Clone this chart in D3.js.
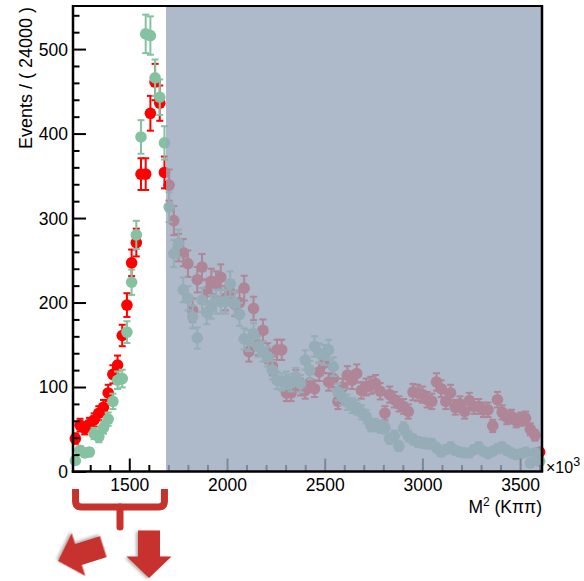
<!DOCTYPE html>
<html>
<head>
<meta charset="utf-8">
<script src="https://cdn.jsdelivr.net/npm/d3@7"></script>
<style>
  body { margin: 0; background: #fff; }
  svg { display: block; }
  text { font-family: "Liberation Sans", Arial, Helvetica, sans-serif; fill: #000; }
</style>
</head>
<body>
<svg id="chart" width="584" height="581"></svg>
<script>
// Binning of the M^2(K pi pi) histogram, in units of 10^3
const binLow = 1212;
const binWidth = 24;

// Events per bin, first sample (red)
const redCounts = [
  39, 55, 51, 56, 61, 69, 76, 93, 115, 126,
  161, 197, 247, 271, 352, 352, 424, 461, 436, 354,
  339, 297, 265, 259, 246, 191, 227, 242, 213, 225,
  222, 230, 205, 212, 198, 200, 217, 142, 193, 150,
  167, 140, 125, 144, 144, 93, 93, 110, 100, 96,
  105, 98, 118, 128, 106, 110, 83, 100, 114, 108,
  116, 96, 100, 102, 104, 95, 69, 91, 85, 80,
  77, 71, 94, 93, 91, 85, 83, 106, 98, 83,
  93, 76, 80, 71, 84, 77, 77, 73, 73, 54,
  85, 70, 64, 65, 60, 62, 63, 50, 43, 23
];

// Events per bin, second sample (green)
const greenCounts = [
  13, 25, 22, 23, 45, 41, 52, 62, 83, 108,
  110, 165, 224, 280, 396, 518, 516, 466, 443, 389,
  313, 258, 270, 215, 205, 183, 158, 203, 188, 195,
  201, 201, 201, 222, 199, 186, 157, 155, 163, 148,
  142, 136, 120, 108, 106, 108, 105, 112, 104, 132,
  120, 148, 140, 138, 144, 124, 94, 88, 82, 78,
  76, 70, 65, 55, 55, 53, 52, 39, 42, 30,
  51, 42, 38, 35, 34, 33, 33, 28, 23, 26,
  29, 25, 23, 22, 22, 26, 29, 24, 21, 24,
  27, 29, 25, 22, 20, 21, 23, 10, 22, 12
];

const xMajorTicks = [1500, 2000, 2500, 3000, 3500];
const yMajorTicks = [0, 100, 200, 300, 400, 500];
const xDomain = [1212, 3612];
const yDomain = [0, 551];
const shadeStart = 1688;   // start of the shaded (excluded) mass range

const svg = d3.select("#chart");
const plot = { left: 73, right: 542, top: 6, bottom: 471.5 };

const x = d3.scaleLinear().domain(xDomain).range([plot.left, plot.right]);
const y = d3.scaleLinear().domain(yDomain).range([plot.bottom, plot.top]);

const RED = "#ff0000";
const GREEN = "#85c2a1";
const ACCENT = "#c8322d";

function toPoints(counts) {
  return counts.map((n, i) => ({
    m: binLow + binWidth * (i + 0.5),
    n: n,
    err: Math.sqrt(n)
  }));
}

function drawSeries(counts, color) {
  const pts = toPoints(counts);
  const g = svg.append("g");
  const bars = g.selectAll("g.eb").data(pts).join("g").attr("class", "eb")
    .attr("stroke", color).attr("stroke-width", 2).attr("fill", "none");
  bars.append("line")
    .attr("x1", d => x(d.m)).attr("x2", d => x(d.m))
    .attr("y1", d => y(d.n + d.err)).attr("y2", d => y(d.n - d.err));
  bars.append("line")
    .attr("x1", d => x(d.m) - 3.5).attr("x2", d => x(d.m) + 3.5)
    .attr("y1", d => y(d.n + d.err)).attr("y2", d => y(d.n + d.err));
  bars.append("line")
    .attr("x1", d => x(d.m) - 3.5).attr("x2", d => x(d.m) + 3.5)
    .attr("y1", d => y(d.n - d.err)).attr("y2", d => y(d.n - d.err));
  g.selectAll("circle").data(pts).join("circle")
    .attr("cx", d => x(d.m)).attr("cy", d => y(d.n))
    .attr("r", 5.8).attr("fill", color);
}

drawSeries(redCounts, RED);
drawSeries(greenCounts, GREEN);

// Axes: ticks point into the frame
const fontSize = 17.5;
const yMinor = d3.range(0, yDomain[1], 20).filter(v => v % 100 !== 0);
const xMinor = d3.range(1300, xDomain[1], 100).filter(v => v % 500 !== 0);

const yAxis = svg.append("g").attr("transform", `translate(${plot.left},0)`)
  .call(d3.axisLeft(y).tickValues(yMajorTicks).tickSizeInner(-13).tickSizeOuter(0)
    .tickPadding(5).tickFormat(d3.format("d")));
svg.append("g").attr("transform", `translate(${plot.left},0)`)
  .call(d3.axisLeft(y).tickValues(yMinor).tickSizeInner(-6.5).tickSizeOuter(0).tickFormat(""))
  .call(g => g.select(".domain").remove());

const xAxis = svg.append("g").attr("transform", `translate(0,${plot.bottom})`)
  .call(d3.axisBottom(x).tickValues(xMajorTicks).tickSizeInner(-13).tickSizeOuter(0)
    .tickPadding(7.5).tickFormat(d3.format("d")));
svg.append("g").attr("transform", `translate(0,${plot.bottom})`)
  .call(d3.axisBottom(x).tickValues(xMinor).tickSizeInner(-6.5).tickSizeOuter(0).tickFormat(""))
  .call(g => g.select(".domain").remove());

svg.selectAll(".domain").remove();
svg.selectAll(".tick line").attr("stroke", "#000").attr("stroke-width", 2);
svg.selectAll(".tick text").attr("font-size", fontSize)
  .attr("font-family", '"Liberation Sans", Arial, sans-serif').attr("fill", "#000");
yAxis.selectAll(".tick text").attr("dy", "0.34em");

// Shaded region over the excluded high-mass range
svg.append("rect")
  .attr("x", x(shadeStart)).attr("y", plot.top)
  .attr("width", plot.right - x(shadeStart)).attr("height", plot.bottom - plot.top)
  .attr("fill", "#9aa8bd").attr("fill-opacity", 0.8);

// Frame
svg.append("line").attr("x1", plot.left).attr("x2", plot.left)
  .attr("y1", plot.top - 1).attr("y2", plot.bottom + 1.2)
  .attr("stroke", "#000").attr("stroke-width", 2.5);
svg.append("line").attr("x1", plot.left - 1.2).attr("x2", plot.right + 1.2)
  .attr("y1", plot.bottom).attr("y2", plot.bottom)
  .attr("stroke", "#000").attr("stroke-width", 2.5);
svg.append("line").attr("x1", plot.left).attr("x2", plot.right)
  .attr("y1", plot.top).attr("y2", plot.top)
  .attr("stroke", "#000").attr("stroke-width", 2);
svg.append("line").attr("x1", plot.right).attr("x2", plot.right)
  .attr("y1", plot.top - 1).attr("y2", plot.bottom)
  .attr("stroke", "#000").attr("stroke-width", 2.5);

// Axis titles
svg.append("text")
  .attr("transform", "rotate(-90)")
  .attr("x", -7).attr("y", 32)
  .attr("text-anchor", "end").attr("font-size", 18)
  .text("Events / ( 24000 )");

const xt = svg.append("text")
  .attr("x", plot.right).attr("y", 513)
  .attr("text-anchor", "end").attr("font-size", 17.5);
xt.append("tspan").text("M");
xt.append("tspan").attr("font-size", 12).attr("dy", -7).text("2");
xt.append("tspan").attr("dy", 7).text(" (K\u03c0\u03c0)");

const ex = svg.append("text")
  .attr("x", 546).attr("y", 473).attr("font-size", 16);
ex.append("tspan").text("\u00d710");
ex.append("tspan").attr("font-size", 12.5).attr("dy", -7).text("3");

// Brace marking the low-mass window, and the two arrows below it
const xa = x(1225), xb = x(1680), xm = (xa + xb) / 2;
const braceY = 507, r = 6;
svg.append("path")
  .attr("d", `M${xa},489 L${xa},${braceY - r} Q${xa},${braceY} ${xa + r},${braceY}
              L${xb - r},${braceY} Q${xb},${braceY} ${xb},${braceY - r} L${xb},489`)
  .attr("fill", "none").attr("stroke", ACCENT).attr("stroke-width", 7)
  .attr("stroke-linejoin", "round");
svg.append("path")
  .attr("d", `M${xm},${braceY} L${xm},527`)
  .attr("fill", "none").attr("stroke", ACCENT).attr("stroke-width", 7)
  .attr("stroke-linecap", "round");

const defs = svg.append("defs");
const f = defs.append("filter").attr("id", "shadow")
  .attr("x", "-30%").attr("y", "-30%").attr("width", "160%").attr("height", "160%");
f.append("feDropShadow").attr("dx", 1).attr("dy", 2).attr("stdDeviation", 1.5)
  .attr("flood-color", "#000").attr("flood-opacity", 0.3);

// block arrow pointing along +x with its tip at the origin
const arrowShape = [[0, 0], [-21.5, -22.5], [-21.5, -11], [-47.5, -11],
                    [-47.5, 11], [-21.5, 11], [-21.5, 22.5]];
const arrowPath = "M" + arrowShape.map(p => p.join(",")).join("L") + "Z";
svg.append("path").attr("d", arrowPath)
  .attr("transform", "translate(149,578) rotate(90)")
  .attr("fill", ACCENT).attr("filter", "url(#shadow)");
svg.append("path").attr("d", arrowPath)
  .attr("transform", "translate(58,561) rotate(162.4)")
  .attr("fill", ACCENT).attr("filter", "url(#shadow)");
</script>
</body>
</html>
